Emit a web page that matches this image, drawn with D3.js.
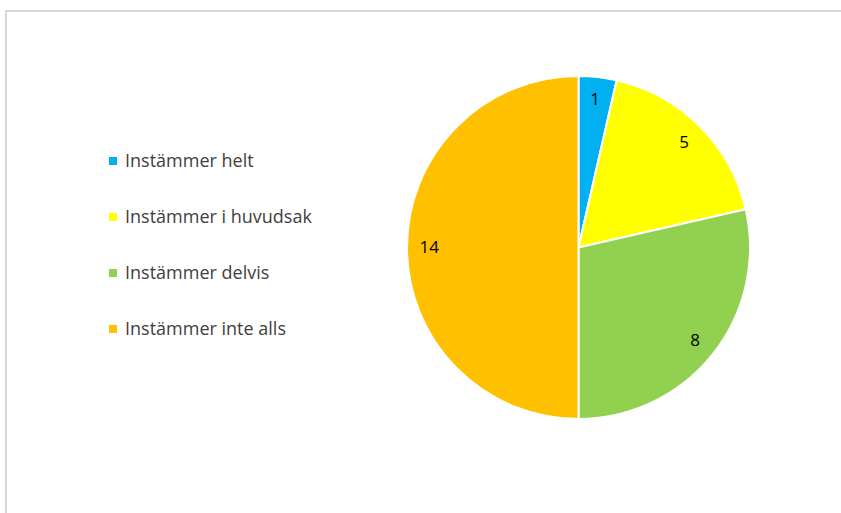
<!DOCTYPE html>
<html><head><meta charset="utf-8">
<script src="https://cdn.jsdelivr.net/npm/d3@7"></script>
<style>body{margin:0;background:#fff;}svg{display:block;}</style>
</head><body>
<svg id="c" width="841" height="513"></svg>
<script>
const categories = ["Instämmer helt", "Instämmer i huvudsak", "Instämmer delvis", "Instämmer inte alls"];
const values = [1, 5, 8, 14];
const colors = ["#00B0F0", "#FFFF00", "#92D050", "#FFC000"];

const svg = d3.select("#c");
const font = "'Open Sans', 'Liberation Sans', Arial, sans-serif";

svg.append("rect").attr("x", 6).attr("y", 11).attr("width", 850).attr("height", 520)
  .attr("fill", "#fff").attr("stroke", "#d9d9d9").attr("stroke-width", 2);

const cx = 578.5, cy = 247.5, r = 171.5;
const pie = d3.pie().sort(null).value(d => d)(values);
const arc = d3.arc().innerRadius(0).outerRadius(r);
const labelArc = d3.arc().innerRadius(r * 0.87).outerRadius(r * 0.87);
const g = svg.append("g").attr("transform", `translate(${cx},${cy})`);
g.selectAll("path").data(pie).join("path")
  .attr("d", arc).attr("fill", (d, i) => colors[i])
  .attr("stroke", "#fff").attr("stroke-width", 2).attr("stroke-linejoin", "round");
g.selectAll("text").data(pie).join("text")
  .attr("transform", d => `translate(${labelArc.centroid(d)})`)
  .attr("text-anchor", "middle").attr("dy", "0.35em")
  .attr("font-family", font).attr("font-size", 17).attr("fill", "#000")
  .text(d => d.data);

const color = d3.scaleOrdinal().domain(categories).range(colors);
const ly = d3.scalePoint().domain(categories).range([161, 329]);
const lg = svg.append("g");
const items = lg.selectAll("g").data(categories).join("g")
  .attr("transform", d => `translate(109,${ly(d)})`);
items.append("rect").attr("x", 0).attr("y", -4).attr("width", 8).attr("height", 8)
  .attr("fill", d => color(d));
items.append("text").attr("x", 16).attr("dy", "0.35em")
  .attr("font-family", font).attr("font-size", 18).attr("fill", "#404040")
  .text(d => d);
</script>
</body></html>
